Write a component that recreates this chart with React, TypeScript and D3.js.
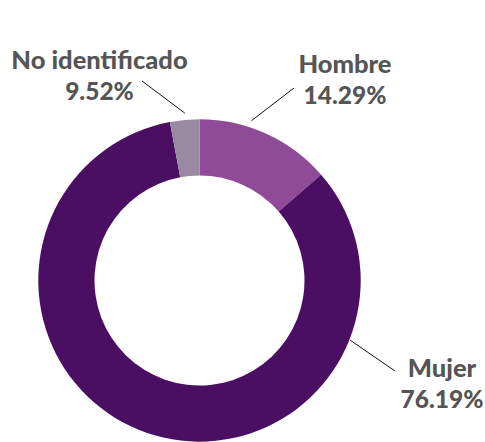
import React from "react";
import * as d3 from "d3";

const categories = ["Hombre", "Mujer", "No identificado"];
// share of the ring as drawn (degrees/360)
const sliceValues = [13.6, 83.46, 2.94];
const percentLabels = ["14.29%", "76.19%", "9.52%"];
const colors = ["#8f4a98", "#4a0e62", "#9a8aa1"];

const W = 485;
const H = 442;
const cx = 199.5;
const cy = 280.5;
const outerR = 161.2;
const innerR = 105;

// label layout: leader line start (angle deg, radius), end point, text center & first baseline
const labelLayout = [
  { a0: 18, r0: 168, x1: 294, y1: 88, tx: 345, ty: 73 },
  { a0: 111.6, r0: 162, x1: 395, y1: 371, tx: 442, ty: 377 },
  { a0: -5, r0: 168, x1: 142, y1: 81, tx: 99.5, ty: 69 },
];

export default function App() {
  const pie = d3
    .pie<number>()
    .sort(null)
    .value((d) => d);
  const arcs = pie(sliceValues);
  const arc = d3.arc<d3.PieArcDatum<number>>().innerRadius(innerR).outerRadius(outerR);

  return (
    <svg
      width={W}
      height={H}
      style={{ position: "absolute", left: 0, top: 0 }}
      fontFamily="Lato, 'Open Sans', sans-serif"
    >
      <g transform={`translate(${cx},${cy})`}>
        {arcs.map((a, i) => (
          <path key={categories[i]} d={arc(a) || ""} fill={colors[i]} />
        ))}
      </g>
      {labelLayout.map((l, i) => {
        const rad = (l.a0 * Math.PI) / 180;
        const x0 = cx + l.r0 * Math.sin(rad);
        const y0 = cy - l.r0 * Math.cos(rad);
        return (
          <g key={i}>
            <line x1={x0} y1={y0} x2={l.x1} y2={l.y1} stroke="#111" strokeWidth={1} />
            <text
              x={l.tx}
              y={l.ty}
              textAnchor="middle"
              fontSize={25.5}
              fontWeight={900}
              fill="#555555"
            >
              {categories[i]}
            </text>
            <text
              x={l.tx}
              y={l.ty + 30.5}
              textAnchor="middle"
              fontSize={24.5}
              fontWeight={900}
              fill="#555555"
            >
              {percentLabels[i]}
            </text>
          </g>
        );
      })}
    </svg>
  );
}
